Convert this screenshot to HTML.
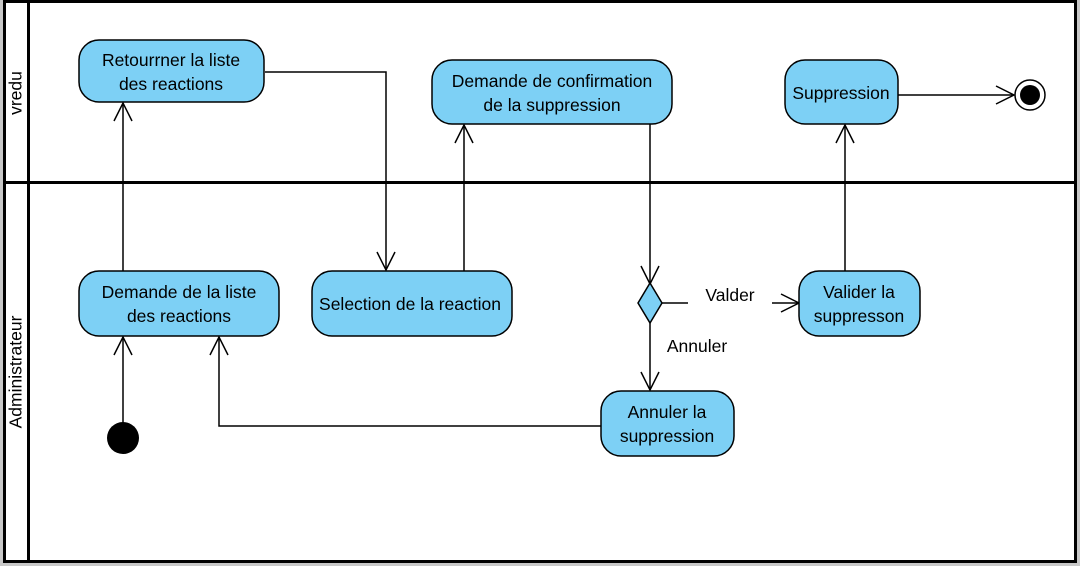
<!DOCTYPE html>
<html><head><meta charset="utf-8"><style>
html,body{margin:0;padding:0;background:#c8c8c8;}
svg{display:block;font-family:"Liberation Sans",Arial,sans-serif;}
</style></head><body>
<svg width="1080" height="566" viewBox="0 0 1080 566" xmlns="http://www.w3.org/2000/svg">
<rect x="0" y="0" width="1080" height="566" fill="#c8c8c8"/>
<rect x="4.5" y="1.5" width="1071" height="560" fill="#fff" stroke="#000" stroke-width="3"/>
<line x1="28.5" y1="1" x2="28.5" y2="561" stroke="#000" stroke-width="3"/>
<line x1="4" y1="182.5" x2="1076" y2="182.5" stroke="#000" stroke-width="3"/>
<text x="17" y="93" font-size="17.5" text-anchor="middle" dominant-baseline="middle" transform="rotate(-90 17 93)">vredu</text>
<text x="17" y="372" font-size="17.5" text-anchor="middle" dominant-baseline="middle" transform="rotate(-90 17 372)">Administrateur</text>

<g fill="none" stroke="#000" stroke-width="1.5">
<polyline points="265,72 386,72 386,270"/>
<polyline points="377,252 386,270 395,252"/>
<line x1="464" y1="271" x2="464" y2="125"/>
<polyline points="455,143 464,125 473,143"/>
<line x1="650" y1="124" x2="650" y2="284"/>
<polyline points="641,266 650,284 659,266"/>
<line x1="662" y1="303" x2="688" y2="303"/>
<line x1="772" y1="303" x2="799" y2="303"/>
<polyline points="781,294 799,303 781,312"/>
<line x1="845" y1="271" x2="845" y2="125"/>
<polyline points="836,143 845,125 854,143"/>
<line x1="898" y1="95" x2="1014" y2="95"/>
<polyline points="996,86 1014,95 996,104"/>
<line x1="650" y1="323" x2="650" y2="390"/>
<polyline points="641,372 650,390 659,372"/>
<polyline points="601,426 219,426 219,337"/>
<polyline points="210,355 219,337 228,355"/>
<line x1="123" y1="271" x2="123" y2="103"/>
<polyline points="114,121 123,103 132,121"/>
<line x1="123" y1="424" x2="123" y2="337"/>
<polyline points="114,355 123,337 132,355"/>
</g>

<g fill="#7dd0f5" stroke="#000" stroke-width="1.5">
<rect x="79" y="40" width="185" height="62" rx="20"/>
<rect x="432" y="60" width="240" height="64" rx="20"/>
<rect x="785" y="60" width="113" height="64" rx="20"/>
<rect x="79" y="271" width="200" height="65" rx="20"/>
<rect x="312" y="271" width="200" height="65" rx="20"/>
<rect x="799" y="271" width="121" height="65" rx="20"/>
<rect x="601" y="391" width="133" height="65" rx="20"/>
<polygon points="650,283 662,303 650,323 638,303"/>
</g>
<circle cx="123" cy="438" r="16" fill="#000"/>
<circle cx="1030" cy="95" r="15" fill="#fff" stroke="#000" stroke-width="1.5"/>
<circle cx="1030" cy="95" r="10" fill="#000"/>

<g font-size="17.5" text-anchor="middle" fill="#000">
<text x="171" y="66">Retourrner la liste</text>
<text x="171" y="90">des reactions</text>
<text x="552" y="87">Demande de confirmation</text>
<text x="552" y="111">de la suppression</text>
<text x="841" y="99">Suppression</text>
<text x="179" y="298">Demande de la liste</text>
<text x="179" y="322">des reactions</text>
<text x="410" y="310">Selection de la reaction</text>
<text x="859" y="298">Valider la</text>
<text x="859" y="322">suppresson</text>
<text x="667" y="418">Annuler la</text>
<text x="667" y="442">suppression</text>
<text x="730" y="301">Valder</text>
<text x="697" y="352">Annuler</text>
</g>
</svg>
</body></html>
